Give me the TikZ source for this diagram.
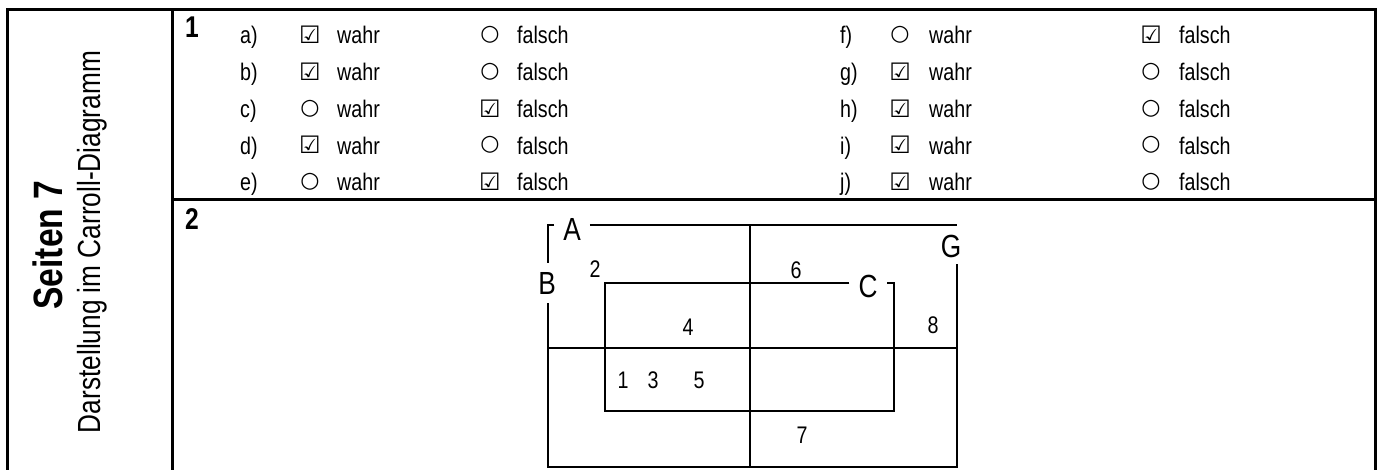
\documentclass[tikz,border=0pt]{standalone}
\usepackage{fontspec}
\setmainfont{Liberation Sans}[FakeStretch=0.82]
\newfontfamily\symfont{DejaVu Sans}
\newfontfamily\boxfont{DejaVu Sans Bold}
\usetikzlibrary{positioning}
\newcommand{\ja}{{\boxfont\fontsize{24}{26}\selectfont\char"2611}}
\newcommand{\nein}{{\symfont\fontsize{22}{24}\selectfont\char"25CB}}

\begin{document}
\begin{tikzpicture}[x=1pt, y=-1pt,
    every node/.style={inner sep=0pt},
    rahmen/.style={line width=3pt},
    linie/.style={line width=2pt},
    txt/.style={font=\fontsize{24}{26}\selectfont, anchor=base west},
    sym/.style={anchor=center},
    nummer/.style={font=\fontsize{30}{32}\selectfont\bfseries, anchor=base west},
    menge/.style={font=\fontsize{32}{34}\selectfont, inner sep=9pt},
    zahl/.style={font=\fontsize{24}{26}\selectfont}]
  \useasboundingbox (0,0) rectangle (1381,470);

  % Rahmen
  \draw[rahmen] (7,470) -- (7,10) -- (1375,10) -- (1375,470);
  \draw[rahmen] (172,10) -- (172,470);
  \draw[rahmen] (172,200) -- (1375,200);

  % Titel
  \node[rotate=90, anchor=base, font=\fontsize{41}{43}\selectfont\bfseries]
    (seite) at (62,245) {Seiten 7};
  \node[rotate=90, anchor=base, font=\fontsize{32}{34}\selectfont]
    (thema) at (100,242) {Darstellung im Carroll-Diagramm};

  % Aufgabe 1
  \node[nummer] (auf1) at (185,38) {1};
  \foreach \b/\y/\w/\f in {a/44/\ja/\nein, b/80.7/\ja/\nein, c/117.4/\nein/\ja,
                           d/154.1/\ja/\nein, e/190.8/\nein/\ja}{
    \node[txt] (lab-\b) at (240,\y) {\b)};
    \node[sym] (sw-\b) at (310,\y-9) {\w};
    \node[txt] (w-\b) at (337,\y) {wahr};
    \node[sym] (sf-\b) at (490,\y-9) {\f};
    \node[txt] (f-\b) at (517,\y) {falsch};
  }
  \foreach \b/\y/\w/\f in {f/44/\nein/\ja, g/80.7/\ja/\nein, h/117.4/\ja/\nein,
                           i/154.1/\ja/\nein, j/190.8/\ja/\nein}{
    \node[txt] (lab-\b) at (840,\y) {\b)};
    \node[sym] (sw-\b) at (900,\y-9) {\w};
    \node[txt] (w-\b) at (929,\y) {wahr};
    \node[sym] (sf-\b) at (1151,\y-9) {\f};
    \node[txt] (f-\b) at (1179,\y) {falsch};
  }

  % Aufgabe 2
  \node[nummer] (auf2) at (185,230) {2};

  % Ecken des Diagramms
  \coordinate (otl) at (548,225);
  \coordinate (otr) at (957,225);
  \coordinate (obl) at (548,467);
  \coordinate (obr) at (957,467);
  \coordinate (mt) at (750,225);
  \coordinate (mb) at (750,467);
  \coordinate (ml) at (548,348);
  \coordinate (mr) at (957,348);
  \coordinate (itl) at (605,283);
  \coordinate (itr) at (894,283);
  \coordinate (ibl) at (605,411);
  \coordinate (ibr) at (894,411);

  % Mengen
  \node[menge] (A) at (572,229) {A};
  \node[menge] (B) at (547,283) {B};
  \node[menge, inner sep=6pt] (G) at (951,246) {G};
  \node[menge] (C) at (868,286) {C};

  \draw[linie] (A.west |- otl) -- (otl) -- (otl |- B.north);
  \draw[linie] (A.east |- otl) -- (otr);
  \draw[linie] (otl |- B.south) -- (obl) -- (obr) -- (otr |- G.south);
  \draw[linie] (mt) -- (mb);
  \draw[linie] (ml) -- (mr);
  \draw[linie] (C.west |- itl) -- (itl) -- (ibl) -- (ibr) -- (itr) -- (C.east |- itr);

  % Zahlen
  \foreach \n/\x/\y in {2/595/269, 6/796/270, 4/688/327, 8/933/325,
                        1/623/380, 3/653/380, 5/699/380, 7/802/435}{
    \node[zahl] (z\n) at (\x,\y) {\n};
  }
\end{tikzpicture}
\end{document}
